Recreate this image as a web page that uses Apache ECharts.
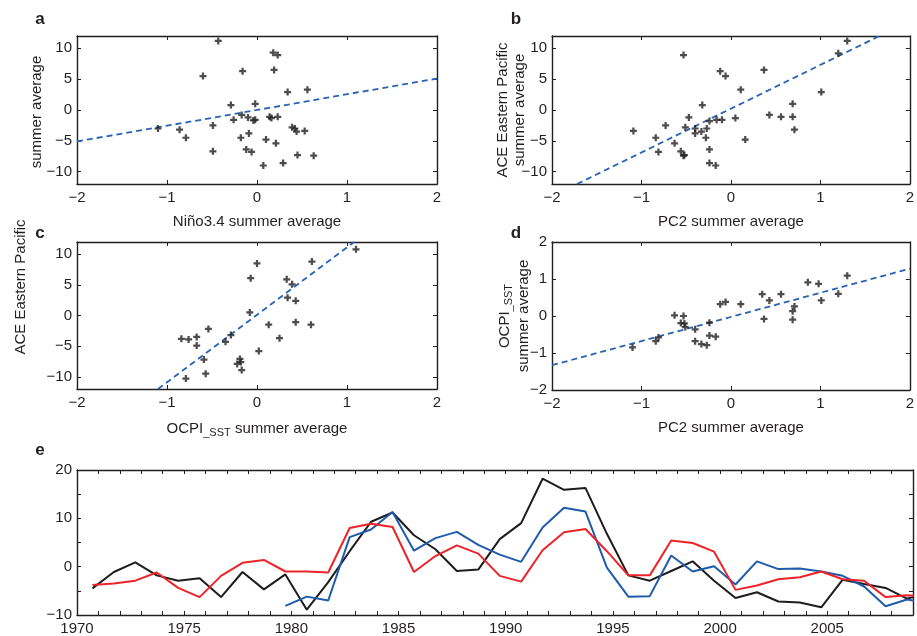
<!DOCTYPE html>
<html>
<head>
<meta charset="utf-8">
<script src="https://cdn.jsdelivr.net/npm/echarts@6/dist/echarts.min.js"></script>
<style>html,body{margin:0;padding:0;background:#fff}#c{width:917px;height:636px}</style>
</head>
<body>
<div id="c"></div>
<script>
// ---------- data ----------
// panel a: Nino3.4 (x) vs ACE Eastern Pacific (y)
const aX = [-0.43,-0.60,-0.16,0.18,0.23,0.19,0.34,0.56,-0.29,-0.02,-1.10,-0.86,-0.79,-0.49,-0.49,-0.26,-0.17,-0.10,-0.04,-0.02,-0.18,-0.09,-0.12,-0.06,0.07,0.10,0.14,0.16,0.23,0.21,0.29,0.39,0.42,0.44,0.53,0.45,0.63];
const aY = [11.2,5.5,6.3,9.3,8.9,6.5,2.9,3.3,0.8,1.0,-3.0,-3.2,-4.5,-2.5,-6.7,-1.6,-0.8,-1.2,-1.7,-1.6,-4.5,-3.8,-6.4,-6.8,-9.0,-4.8,-1.1,-1.3,-1.1,-5.4,-8.6,-2.8,-3.0,-3.5,-3.4,-7.3,-7.4];
const aFit = [[-2,-5.1],[2,5.1]];
// panel b: PC2 (x) vs ACE Eastern Pacific (y)
const bX = [1.30,1.20,-0.53,-0.12,-0.06,0.37,1.01,0.11,-0.32,0.69,-1.09,-0.84,-0.81,-0.73,-0.63,-0.51,-0.47,-0.56,-0.53,-0.52,-0.40,-0.40,-0.33,-0.27,-0.28,-0.24,-0.24,-0.24,-0.17,-0.16,-0.10,0.05,0.16,0.43,0.56,0.69,0.71];
const bY = [11.2,9.2,8.9,6.3,5.5,6.5,2.9,3.3,0.8,1.0,-3.4,-4.5,-6.8,-2.5,-5.4,-2.8,-1.2,-6.7,-7.4,-7.3,-3.0,-3.8,-3.5,-3.0,-4.5,-1.8,-6.4,-8.6,-9.0,-1.6,-1.6,-1.3,-4.8,-0.8,-1.1,-1.1,-3.2];
const bFit = [[-1.72,-12],[1.66,12]];
// panel c: OCPI_SST (x) vs ACE Eastern Pacific (y)
const cX = [1.10,0.00,0.61,-0.07,0.33,0.39,0.34,0.43,-0.08,0.13,0.43,0.60,-0.84,-0.76,-0.67,-0.54,-0.67,-0.35,-0.29,0.25,0.02,-0.59,-0.57,-0.79,-0.22,-0.19,-0.18,-0.17];
const cY = [10.8,8.5,8.8,6.1,5.9,5.1,2.9,2.4,0.5,-1.5,-1.1,-1.5,-3.8,-3.9,-3.5,-2.2,-4.9,-4.3,-3.2,-3.7,-5.8,-7.2,-9.5,-10.3,-7.9,-7.1,-7.6,-8.9];
const cFit = [[-1.10,-12],[1.08,12]];
// panel d: PC2 (x) vs OCPI_SST (y)
const dX = [1.30,0.86,0.98,1.01,1.20,0.35,0.43,0.56,0.37,0.71,0.69,0.69,0.11,-0.12,-0.06,-0.63,-0.53,-0.56,-0.52,-0.51,-0.40,-0.24,-0.40,-0.33,-0.27,-0.24,-0.17,-0.84,-0.81,-1.10];
const dY = [1.09,0.91,0.87,0.42,0.60,0.59,0.42,0.59,-0.08,0.26,0.13,-0.10,0.32,0.32,0.38,0.02,0.00,-0.19,-0.20,-0.30,-0.36,-0.18,-0.68,-0.76,-0.79,-0.53,-0.56,-0.68,-0.58,-0.85];
const dFit = [[-2,-1.33],[2,1.28]];
// panel e: time series (summer averages, 1970-2009)
const years = [1970,1971,1972,1973,1974,1975,1976,1977,1978,1979,1980,1981,1982,1983,1984,1985,1986,1987,1988,1989,1990,1991,1992,1993,1994,1995,1996,1997,1998,1999,2000,2001,2002,2003,2004,2005,2006,2007,2008,2009];
const eBlack = [-4.5,-1.1,0.9,-1.8,-2.9,-2.4,-6.3,-1.1,-4.7,-1.6,-8.9,-3.2,3.2,9.3,11.2,6.5,3.6,-0.9,-0.6,5.7,9.0,18.2,15.9,16.3,6.8,-1.8,-2.9,-0.9,1.1,-2.9,-6.5,-5.3,-7.2,-7.4,-8.4,-2.7,-3.6,-4.4,-6.6,-5.6];
const eRed = [-3.8,-3.5,-2.9,-1.2,-4.4,-6.3,-1.9,0.8,1.4,-1.0,-1.0,-1.2,8.0,8.9,8.2,-1.1,2.2,4.4,2.7,-1.9,-3.1,3.4,7.1,7.8,3.2,-1.8,-1.8,5.4,4.9,3.1,-4.8,-3.9,-2.6,-2.2,-1.0,-2.6,-2.9,-6.3,-5.9,-6.3];
const eBlue = [null,null,null,null,null,null,null,null,null,-8.1,-6.2,-7.0,6.1,7.7,11.3,3.3,5.9,7.2,4.5,2.5,1.0,8.1,12.2,11.4,-0.2,-6.2,-6.1,2.3,-1.0,0.1,-3.7,1.1,-0.5,-0.4,-1.0,-1.9,-4.1,-8.2,-6.8,-7.5];
const scatterXTicks = [-2,-1,0,1,2];
const aceYTicks = [-10,-5,0,5,10];
const ocpiYTicks = [-2,-1,0,1,2];
const eYTicks = [-10,0,10,20];
const eYMinorTicks = [-10,-5,0,5,10,15,20];
const eXTicks = [1970,1975,1980,1985,1990,1995,2000,2005];

// ---------- style ----------
const INK = '#231f20';
const FONT = '"Liberation Sans", Arial, Helvetica, sans-serif';
const BLUE_FIT = '#2a63b3';
const PLUS = 'path://M3.4,0H6.6V3.4H10V6.6H6.6V10H3.4V6.6H0V3.4H3.4Z';
const minus = v => String(v).replace('-', '\u2212');

const grids = [
  {left:77, top:36, width:360, height:148},
  {left:552, top:36, width:359, height:148},
  {left:77, top:242, width:360, height:147},
  {left:552, top:242, width:359, height:148},
  {left:77, top:470, width:836, height:148}
];

const xAxes = [], yAxes = [], series = [];
function axLine(){ return {show:true, onZero:false, lineStyle:{color:INK, width:1.4}}; }
function tick(vals){ return {show:true, inside:true, length:4, customValues:vals, lineStyle:{color:INK, width:1}}; }
function addPanel(gi, xr, yr, xTicks, yTicks, xName){
  xAxes.push({type:'value', gridIndex:gi, min:xr[0], max:xr[1], position:'bottom',
    axisLine:axLine(), splitLine:{show:false}, axisTick:tick(xTicks),
    axisLabel:{show:true, customValues:xTicks, formatter:minus, color:INK, fontFamily:FONT, fontSize:15, margin:6},
    name:xName, nameLocation:'middle', nameGap:30, nameTextStyle:{color:INK, fontFamily:FONT, fontSize:15}});
  xAxes.push({type:'value', gridIndex:gi, min:xr[0], max:xr[1], position:'top',
    axisLine:axLine(), splitLine:{show:false}, axisTick:tick(xTicks), axisLabel:{show:false}});
  yAxes.push({type:'value', gridIndex:gi, min:yr[0], max:yr[1], position:'left',
    axisLine:axLine(), splitLine:{show:false}, axisTick:tick(yTicks),
    axisLabel:{show:true, customValues:yTicks, formatter:minus, color:INK, fontFamily:FONT, fontSize:15, margin:5}});
  yAxes.push({type:'value', gridIndex:gi, min:yr[0], max:yr[1], position:'right',
    axisLine:axLine(), splitLine:{show:false}, axisTick:tick(yTicks), axisLabel:{show:false}});
  return {x:xAxes.length-2, y:yAxes.length-2};
}
function zip(xs, ys){ return xs.map((x,i)=>[x, ys[i]]); }
function scatterPanel(ax, xs, ys, fit){
  series.push({type:'line', xAxisIndex:ax.x, yAxisIndex:ax.y, data:fit, symbol:'none', silent:true,
    lineStyle:{color:BLUE_FIT, width:1.8, type:[6,4]}, z:1});
  series.push({type:'scatter', xAxisIndex:ax.x, yAxisIndex:ax.y, data:zip(xs,ys), symbol:PLUS, symbolSize:7,
    itemStyle:{color:INK}, z:2});
}

const pa = addPanel(0, [-2,2], [-12,12], scatterXTicks, aceYTicks, 'Niño3.4 summer average');
scatterPanel(pa, aX, aY, aFit);
const pb = addPanel(1, [-2,2], [-12,12], scatterXTicks, aceYTicks, 'PC2 summer average');
scatterPanel(pb, bX, bY, bFit);
const pc = addPanel(2, [-2,2], [-12,12], scatterXTicks, aceYTicks, '');
scatterPanel(pc, cX, cY, cFit);
xAxes[pc.x].name = '{m|OCPI}{s|_SST}{m| summer average}';
xAxes[pc.x].nameTextStyle = {color:INK, fontFamily:FONT, fontSize:15,
  rich:{m:{fontFamily:FONT, fontSize:15, color:INK}, s:{fontFamily:FONT, fontSize:11, color:INK, padding:[8,0,0,0]}}};
const pd = addPanel(3, [-2,2], [-2,2], scatterXTicks, ocpiYTicks, 'PC2 summer average');
scatterPanel(pd, dX, dY, dFit);

const pe = addPanel(4, [1970,2009], [-10,20], years, eYMinorTicks, '');
xAxes[pe.x].axisLabel.customValues = eXTicks;
yAxes[pe.y].axisLabel.customValues = eYTicks;

const tPos = years.map(y => y + 0.72); // summer (Jul–Sep) average plotted within the year
function tsSeries(vals, color){
  series.push({type:'line', xAxisIndex:pe.x, yAxisIndex:pe.y, data:vals.map((v,i)=>[tPos[i], v]),
    symbol:'none', connectNulls:false, clip:true, lineStyle:{color:color, width:2}});
}
tsSeries(eBlack, '#1e1c1c');
tsSeries(eBlue, '#1f5bab');
tsSeries(eRed, '#ec2328');

const lbl = (text, x, y) => ({type:'text', x:x, y:y, rotation:Math.PI/2,
  style:{text:text, fill:INK, font:'15px ' + FONT, align:'center', verticalAlign:'middle'}});
const letter = (t, x, y) => ({type:'text', x:x, y:y, style:{text:t, fill:INK, font:'bold 17px ' + FONT, align:'center', verticalAlign:'middle'}});

const chart = echarts.init(document.getElementById('c'), null, {renderer:'canvas'});
chart.setOption({
  animation:false,
  backgroundColor:'#fff',
  grid:grids,
  xAxis:xAxes,
  yAxis:yAxes,
  series:series,
  graphic:[
    letter('a', 40, 19), letter('b', 516, 19), letter('c', 40, 233), letter('d', 516, 233), letter('e', 40, 450),
    lbl('summer average', 37, 112),
    lbl('ACE Eastern Pacific', 21, 287),
    lbl('ACE Eastern Pacific', 503, 110),
    lbl('summer average', 520, 110),
    {type:'text', x:505, y:316, rotation:Math.PI/2, style:{text:'{m|OCPI}{s|_SST}', fill:INK, font:'15px ' + FONT, align:'center', verticalAlign:'middle',
      rich:{m:{font:'15px ' + FONT, fill:INK}, s:{font:'11px ' + FONT, fill:INK, padding:[8,0,0,0]}}}},
    lbl('summer average', 524, 316)
  ]
});
</script>
</body>
</html>
